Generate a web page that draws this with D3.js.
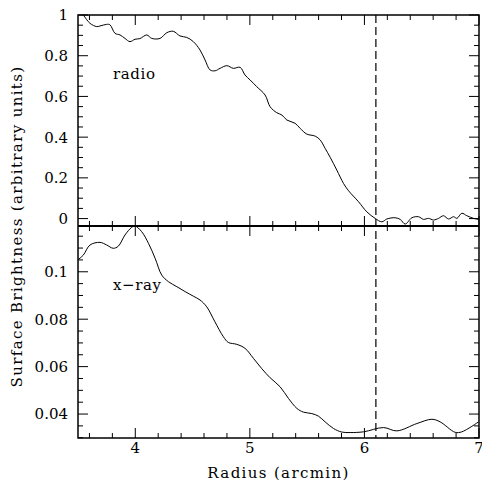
<!DOCTYPE html>
<html>
<head>
<meta charset="utf-8">
<script src="https://cdn.jsdelivr.net/npm/d3@7"></script>
<style>
  body { margin: 0; background: #fff; }
  text { font-family: "DejaVu Serif", serif; fill: #000; }
</style>
</head>
<body>
<div id="chart"></div>
<script>
// radio profile (radius in arcmin, brightness arbitrary units)
const radioR = [3.50, 3.546, 3.605, 3.663, 3.692, 3.75, 3.779, 3.823, 3.867, 3.91, 3.954, 3.998, 4.04, 4.10, 4.144, 4.216,
  4.275, 4.332, 4.39, 4.449, 4.507, 4.565, 4.609, 4.653, 4.697, 4.74, 4.799, 4.856, 4.915, 4.958, 5.002, 5.06,
  5.133, 5.177, 5.235, 5.279, 5.323, 5.395, 5.439, 5.497, 5.57, 5.614, 5.657, 5.701, 5.759, 5.817, 5.861, 5.948,
  6.021, 6.093, 6.152, 6.196, 6.268, 6.312, 6.356, 6.414, 6.472, 6.516, 6.559, 6.603, 6.647, 6.69, 6.734, 6.778,
  6.807, 6.85, 6.894, 6.952, 6.996];
const radioV = [1.03, 1.0, 0.959, 0.943, 0.946, 0.954, 0.952, 0.910, 0.902, 0.885, 0.869, 0.881, 0.884, 0.902, 0.885, 0.885,
  0.913, 0.920, 0.897, 0.890, 0.869, 0.828, 0.779, 0.730, 0.726, 0.738, 0.751, 0.738, 0.743, 0.705, 0.681, 0.648,
  0.607, 0.549, 0.520, 0.509, 0.484, 0.468, 0.443, 0.415, 0.405, 0.386, 0.345, 0.301, 0.238, 0.173, 0.137, 0.083,
  0.033, 0.001, -0.016, -0.002, 0.004, -0.004, -0.027, 0.004, 0.009, -0.004, 0.001, -0.007, 0.001, 0.014, -0.002, 0.009,
  0.001, 0.026, 0.014, 0.001, -0.004];

// x-ray profile
const xrayR = [3.503, 3.546, 3.605, 3.692, 3.75, 3.808, 3.852, 3.91, 3.968, 3.998, 4.056, 4.115, 4.173, 4.231, 4.29,
  4.363, 4.436, 4.507, 4.565, 4.624, 4.695, 4.769, 4.812, 4.886, 4.958, 5.031, 5.103, 5.177, 5.264, 5.337, 5.41,
  5.468, 5.541, 5.599, 5.657, 5.73, 5.803, 5.876, 5.992, 6.167, 6.283, 6.458, 6.589, 6.661, 6.792, 6.85, 6.996];
const xrayV = [0.1052, 0.1070, 0.1113, 0.1124, 0.1113, 0.1099, 0.1108, 0.1155, 0.1187, 0.1193, 0.1169, 0.1120, 0.1057, 0.0986, 0.0958,
  0.0937, 0.0916, 0.0897, 0.0881, 0.0852, 0.0789, 0.0726, 0.0702, 0.0694, 0.0677, 0.0635, 0.0592, 0.0553, 0.0515, 0.0466, 0.0424,
  0.0408, 0.0402, 0.0391, 0.0367, 0.0339, 0.0324, 0.0322, 0.0325, 0.0343, 0.0329, 0.0360, 0.0378, 0.0367, 0.0323, 0.0325, 0.0367];

const xTicks = [4, 5, 6, 7];
const radioTicks = [0, 0.2, 0.4, 0.6, 0.8, 1];
const xrayTicks = [0.04, 0.06, 0.08, 0.1];
const cutRadius = 6.1;

const W = 482, H = 485;
const pLeft = 78, pRight = 479, pTop = 15, pMid = 226, pBottom = 438;

const svg = d3.select("#chart").append("svg")
  .attr("width", W).attr("height", H);

const x = d3.scaleLinear().domain([3.5, 7]).range([pLeft, pRight]);
const yTop = d3.scaleLinear().domain([-0.0365, 1]).range([pMid, pTop]);
const yBot = d3.scaleLinear().domain([0.0299, 0.1193]).range([pBottom, pMid]);

const defs = svg.append("defs");
defs.append("clipPath").attr("id", "clipTop").append("rect")
  .attr("x", pLeft).attr("y", pTop).attr("width", pRight - pLeft).attr("height", pMid - pTop);
defs.append("clipPath").attr("id", "clipBot").append("rect")
  .attr("x", pLeft).attr("y", pMid).attr("width", pRight - pLeft).attr("height", pBottom - pMid);

// tick helper: draws inward ticks on all four sides of a panel
function panelTicks(y, major, minorStep, y0, y1) {
  const g = svg.append("g").attr("stroke", "#000").attr("stroke-width", 1);
  const xMinor = d3.range(3.6, 7.0, 0.2).filter(v => Math.abs(v - Math.round(v)) > 0.01);
  const xs = xTicks.map(v => [v, 10]).concat(xMinor.map(v => [v, 5]));
  xs.forEach(([v, len]) => {
    g.append("line").attr("x1", x(v)).attr("x2", x(v)).attr("y1", y0).attr("y2", y0 - len);
    g.append("line").attr("x1", x(v)).attr("x2", x(v)).attr("y1", y1).attr("y2", y1 + len);
  });
  const [d0, d1] = y.domain();
  const yMinor = d3.range(Math.ceil(d0 / minorStep) * minorStep, d1, minorStep)
    .filter(v => !major.some(m => Math.abs(m - v) < minorStep / 10));
  const ys = major.map(v => [v, 10]).concat(yMinor.map(v => [v, 5]));
  ys.forEach(([v, len]) => {
    g.append("line").attr("x1", pLeft).attr("x2", pLeft + len).attr("y1", y(v)).attr("y2", y(v));
    g.append("line").attr("x1", pRight).attr("x2", pRight - len).attr("y1", y(v)).attr("y2", y(v));
  });
}
panelTicks(yTop, radioTicks, 0.05, pMid, pTop);
panelTicks(yBot, xrayTicks, 0.005, pBottom, pMid);

// tick labels
svg.append("g").selectAll("text").data(radioTicks).join("text")
  .attr("x", 68).attr("y", d => yTop(d)).attr("dy", "0.36em")
  .attr("text-anchor", "end").style("font-size", "15px")
  .text(d => d3.format("")(d));
svg.append("g").selectAll("text").data(xrayTicks).join("text")
  .attr("x", 68).attr("y", d => yBot(d)).attr("dy", "0.36em")
  .attr("text-anchor", "end").style("font-size", "15px")
  .text(d => d3.format("")(d));
// the last label sits on the window edge, partly cut, as in the original
svg.append("g").selectAll("text").data(xTicks).join("text")
  .attr("x", d => x(d)).attr("y", 453)
  .attr("text-anchor", "middle").style("font-size", "15px")
  .text(d => d);

// curves
const line = (y) => d3.line().x(d => x(d[0])).y(d => y(d[1])).curve(d3.curveCatmullRom);
svg.append("path")
  .datum(radioR.map((r, i) => [r, radioV[i]]))
  .attr("clip-path", "url(#clipTop)")
  .attr("d", line(yTop))
  .attr("fill", "none").attr("stroke", "#000").attr("stroke-width", 1);
svg.append("path")
  .datum(xrayR.map((r, i) => [r, xrayV[i]]))
  .attr("clip-path", "url(#clipBot)")
  .attr("d", line(yBot))
  .attr("fill", "none").attr("stroke", "#000").attr("stroke-width", 1);

// dashed cutoff line
svg.append("line")
  .attr("x1", x(cutRadius)).attr("x2", x(cutRadius))
  .attr("y1", pTop).attr("y2", pBottom)
  .attr("stroke", "#000").attr("stroke-width", 1.2)
  .attr("stroke-dasharray", "8,4");

// frames
svg.append("rect").attr("x", pLeft).attr("y", pTop).attr("width", pRight - pLeft).attr("height", pBottom - pTop)
  .attr("fill", "none").attr("stroke", "#000").attr("stroke-width", 1.5);
svg.append("line").attr("x1", pLeft).attr("x2", pRight).attr("y1", pMid).attr("y2", pMid)
  .attr("stroke", "#000").attr("stroke-width", 2.2);

// panel labels
svg.append("text").attr("x", 113).attr("y", 79).style("font-size", "15px")
  .style("letter-spacing", "0.6px").text("radio");
svg.append("text").attr("x", 113).attr("y", 290).style("font-size", "15px")
  .style("letter-spacing", "0.6px").text("x\u2212ray");

// axis titles
svg.append("text")
  .attr("x", (pLeft + pRight) / 2).attr("y", 478)
  .attr("text-anchor", "middle").style("font-size", "15px")
  .style("letter-spacing", "1.35px")
  .text("Radius (arcmin)");
svg.append("text")
  .attr("transform", `translate(22,${(pTop + pBottom) / 2}) rotate(-90)`)
  .attr("text-anchor", "middle").style("font-size", "15px")
  .style("letter-spacing", "1.35px")
  .text("Surface Brightness (arbitrary units)");
</script>
</body>
</html>
